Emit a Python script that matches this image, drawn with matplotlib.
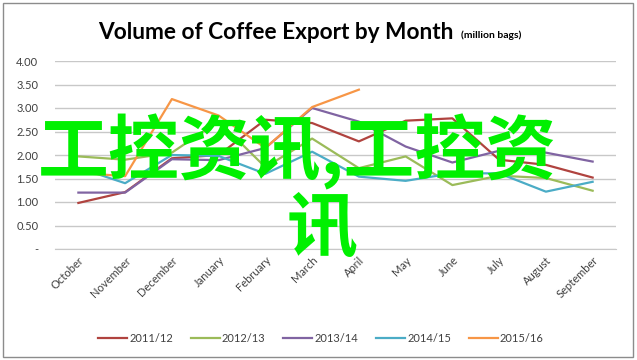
import matplotlib.pyplot as plt
from matplotlib.patches import Rectangle
from matplotlib.transforms import ScaledTranslation

# data (million bags)
months = ['October', 'November', 'December', 'January', 'February', 'March',
          'April', 'May', 'June', 'July', 'August', 'September']
s_2011 = [0.98, 1.21, 1.93, 2.00, 2.75, 2.68, 2.29, 2.73, 2.78, 1.90, 1.79, 1.52]
s_2012 = [1.97, 1.90, 2.05, 2.72, 1.74, 2.35, 1.72, 1.97, 1.36, 1.56, 1.51, 1.24]
s_2013 = [1.20, 1.20, 1.91, 1.89, 2.15, 3.00, 2.71, 2.18, 1.84, 2.09, 2.05, 1.86]
s_2014 = [1.73, 1.40, 2.00, 1.98, 1.60, 2.07, 1.54, 1.45, 1.61, 1.61, 1.22, 1.43]
s_2015 = [1.62, 1.55, 3.19, 2.84, 2.15, 3.02, 3.39]
season_labels = ['2011/12', '2012/13', '2013/14', '2014/15', '2015/16']
colors = ['#B0433F', '#9BBB59', '#8064A2', '#4BACC6', '#F79646']
yticks = [0, 0.5, 1.0, 1.5, 2.0, 2.5, 3.0, 3.5, 4.0]

plt.rcParams['font.family'] = ['Lato', 'DejaVu Sans']

fig = plt.figure(figsize=(6.37, 3.6), dpi=100)
ax = fig.add_axes([55 / 637, 1 - 249 / 360, 561 / 637, 188 / 360])

x = list(range(len(months)))
for vals, lab, c in zip([s_2011, s_2012, s_2013, s_2014, s_2015], season_labels, colors):
    ax.plot(x[:len(vals)], vals, color=c, lw=1.6, label=lab)

ax.set_xlim(-0.5, len(months) - 0.5)
ax.set_ylim(0, 4)
ax.set_yticks(yticks)
ax.set_yticklabels(['-' if v == 0 else f'{v:.2f}' for v in yticks], fontsize=8, color='#404040')
ax.set_xticks(x)
ax.set_xticklabels(months, rotation=45, ha='right', va='top', rotation_mode='anchor',
                   fontsize=8, color='#404040')
shift = ScaledTranslation(-3 / 72, -2 / 72, fig.dpi_scale_trans)
for lbl in ax.get_xticklabels():
    lbl.set_transform(lbl.get_transform() + shift)
ax.tick_params(axis='y', length=0, pad=12)
ax.tick_params(axis='x', length=0, pad=4)
ax.grid(axis='y', color='#C8C8C8', lw=1)
ax.set_axisbelow(True)
for sp in ['left', 'right', 'top']:
    ax.spines[sp].set_visible(False)
ax.spines['bottom'].set_color('#C8C8C8')

leg = ax.legend(loc='center', bbox_to_anchor=(0.474, -(338 - 249) / 188.0), ncol=5,
                frameon=False, fontsize=8, handlelength=2.6, handletextpad=0.2,
                columnspacing=1.6)
for t in leg.get_texts():
    t.set_color('#404040')

fig.text(98 / 637, 1 - 39 / 360, 'Volume of Coffee Export by Month', fontsize=16.3,
         fontweight='bold', va='baseline', ha='left')
fig.text(461 / 637, 1 - 38 / 360, '(million bags)', fontsize=7.5, fontweight='bold',
         va='baseline', ha='left')

# outer frame
fig.patches.append(Rectangle((3 / 637, 3 / 360), 630 / 637, 354 / 360, transform=fig.transFigure,
                             fill=False, edgecolor='#8C8C8C', lw=1))

# overlaid watermark
fig.text(38 / 637, 1 - 152 / 360, '工控资讯,工控资', fontsize=51, fontweight='bold',
         color='#00F000', va='center', ha='left', family=['Noto Sans CJK SC', 'DejaVu Sans'])
fig.text(287 / 637, 1 - 230 / 360, '讯', fontsize=51, fontweight='bold',
         color='#00F000', va='center', ha='left', family=['Noto Sans CJK SC', 'DejaVu Sans'])

fig.savefig('out.png', dpi=100)
